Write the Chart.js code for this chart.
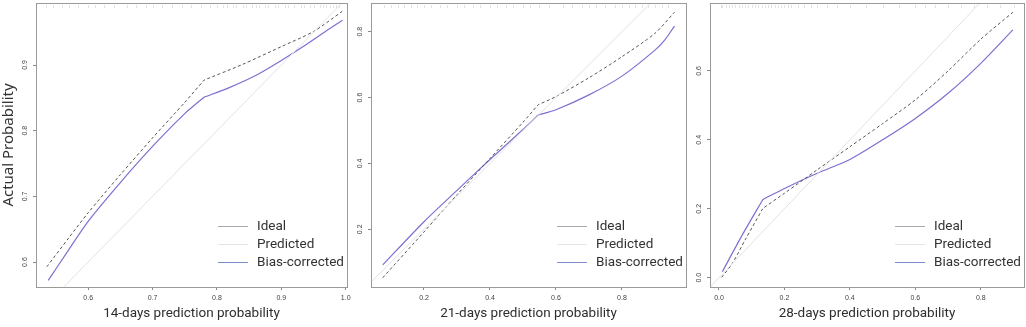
<!DOCTYPE html>
<html><head><meta charset="utf-8">
<script src="https://cdn.jsdelivr.net/npm/chart.js@4"></script>
<style>
html,body{margin:0;padding:0;background:#fff;width:1026px;height:327px;overflow:hidden;position:relative}
canvas{position:absolute;top:-10px}
</style></head><body>
<canvas id="c1" width="362" height="337" style="left:0px"></canvas>
<canvas id="c2" width="352" height="337" style="left:349px"></canvas>
<canvas id="c3" width="336" height="337" style="left:690px"></canvas>
<script>
// ---------- data ----------
const legendLabels = ["Ideal", "Predicted", "Bias-corrected"];
const xTitles = ["14-days prediction probability", "21-days prediction probability", "28-days prediction probability"];
const yTitle = "Actual Probability";

// Panel 1 (14 days)
const p1PredX = [0.536,0.57,0.6,0.65,0.7,0.75,0.78,0.78,0.84,0.9,0.95,0.995];
const p1PredY = [0.593,0.637,0.675,0.733,0.789,0.843,0.877,0.877,0.901,0.928,0.951,0.982];
const p1BiasX = [0.538,0.57,0.6,0.65,0.7,0.75,0.78,0.78,0.82,0.86,0.9,0.94,0.97,0.995];
const p1BiasY = [0.572,0.619,0.662,0.721,0.776,0.826,0.851,0.851,0.866,0.884,0.907,0.932,0.952,0.968];
const p1XTicks = [0.6,0.7,0.8,0.9,1.0];
const p1YTicks = [0.6,0.7,0.8,0.9];
const p1Rug = [0.535,0.545,0.56,0.57,0.585,0.60,0.61,0.625,0.64,0.66,0.675,0.69,0.70,0.715,0.73,0.745,0.76,0.775,0.79,0.80,0.81,0.815,0.825,0.83,0.84,0.845,0.855,0.86,0.865,0.875,0.88,0.89,0.895,0.905,0.91,0.92,0.93,0.935,0.945,0.95,0.96,0.965,0.97,0.975,0.98,0.985,0.99];

// Panel 2 (21 days)
const p2PredX = [0.075,0.2,0.3,0.4,0.5,0.546,0.546,0.6,0.7,0.8,0.9,0.959];
const p2PredY = [0.053,0.192,0.305,0.415,0.525,0.578,0.578,0.603,0.660,0.724,0.795,0.859];
const p2BiasX = [0.075,0.2,0.3,0.4,0.5,0.546,0.546,0.6,0.7,0.8,0.9,0.93,0.959];
const p2BiasY = [0.092,0.223,0.318,0.412,0.503,0.547,0.547,0.563,0.608,0.665,0.744,0.775,0.817];
const p2XTicks = [0.2,0.4,0.6,0.8];
const p2YTicks = [0.2,0.4,0.6,0.8];
const p2Rug = [0.08,0.1,0.12,0.14,0.16,0.18,0.2,0.22,0.25,0.27,0.3,0.32,0.35,0.37,0.4,0.42,0.45,0.47,0.5,0.52,0.55,0.58,0.62,0.65,0.68,0.7,0.72,0.75,0.78,0.8,0.82,0.84,0.86,0.88,0.9,0.92,0.94];

// Panel 3 (28 days)
const p3PredX = [0.008,0.04,0.08,0.134,0.134,0.2,0.3,0.4,0.5,0.6,0.7,0.8,0.898];
const p3PredY = [0.001,0.040,0.110,0.201,0.201,0.245,0.313,0.380,0.447,0.516,0.600,0.692,0.770];
const p3BiasX = [0.010,0.07,0.134,0.134,0.2,0.3,0.4,0.5,0.6,0.7,0.8,0.898];
const p3BiasY = [0.017,0.122,0.227,0.227,0.259,0.303,0.343,0.400,0.462,0.535,0.622,0.719];
const p3XTicks = [0.0,0.2,0.4,0.6,0.8];
const p3YTicks = [0.0,0.2,0.4,0.6];
const p3Rug = [0.005,0.01,0.02,0.03,0.04,0.05,0.06,0.07,0.08,0.09,0.1,0.11,0.12,0.13,0.14,0.15,0.16,0.17,0.18,0.19,0.2,0.21,0.22,0.24,0.26,0.28,0.3,0.33,0.36,0.4,0.45,0.5,0.55,0.6,0.63,0.66,0.7,0.74,0.78,0.82,0.86,0.9];

// ---------- rendering ----------
const COL_IDEAL = '#e2e2e2';
const COL_PRED = '#555555';
const COL_BIAS = '#7a70d2';
const LEG_COLS = ['#a8a8b0', '#e4e4e4', '#7f8ccc'];

function pts(xs, ys){ return xs.map((x,i)=>({x:x, y:ys[i]})); }

const boxPlugin = {
  id:'boxAndExtras',
  beforeDatasetsDraw(chart){
    const a = chart.chartArea, ctx = chart.ctx, rug = chart.$rug || [], xs = chart.scales.x;
    ctx.save();
    ctx.strokeStyle = '#e3e3e3'; ctx.lineWidth = 1;
    rug.forEach(v=>{
      const px = Math.round(xs.getPixelForValue(v)) + 0.5;
      ctx.beginPath(); ctx.moveTo(px, a.top + 2); ctx.lineTo(px, a.top + 5); ctx.stroke();
    });
    ctx.restore();
  },
  afterDraw(chart){
    const a = chart.chartArea, ctx = chart.ctx;
    ctx.save();
    ctx.strokeStyle = '#9a9a9a'; ctx.lineWidth = 1;
    ctx.strokeRect(Math.round(a.left)+0.5, Math.round(a.top)+0.5, Math.round(a.right-a.left), Math.round(a.bottom-a.top));
    // legend inside plot box
    const ys = [Math.round(a.bottom-61)+0.5, Math.round(a.bottom-43)+0.5, Math.round(a.bottom-25)+0.5];
    ctx.font = '13.5px Roboto';
    ctx.textBaseline = 'middle'; ctx.textAlign = 'left';
    legendLabels.forEach((lab,i)=>{
      ctx.strokeStyle = LEG_COLS[i]; ctx.lineWidth = 1;
      ctx.beginPath(); ctx.moveTo(Math.round(a.right-129), ys[i]); ctx.lineTo(Math.round(a.right-99), ys[i]); ctx.stroke();
      ctx.fillStyle = '#333';
      ctx.fillText(lab, a.right-90, ys[i]);
    });
    ctx.restore();
  }
};

function makeChart(id, o){
  const ticksFont = {size:7, family:'"Liberation Sans"'};
  const canvas = document.getElementById(id);
  return new Chart(canvas, {
    type:'scatter',
    data:{ datasets:[
      {label:legendLabels[0], data:[{x:-0.1,y:-0.1},{x:1.1,y:1.1}], showLine:true, borderColor:COL_IDEAL, borderWidth:1, pointRadius:0},
      {label:legendLabels[1], data:pts(o.px,o.py), showLine:true, borderColor:COL_PRED, borderWidth:1, borderDash:[3,2.5], pointRadius:0, tension:0.25},
      {label:legendLabels[2], data:pts(o.bx,o.by), showLine:true, borderColor:COL_BIAS, borderWidth:1.2, pointRadius:0, tension:0.25}
    ]},
    options:{
      responsive:false, animation:false, events:[],
      layout:{padding:{top:13, right:o.padR, left:0, bottom:0}},
      plugins:{legend:{display:false}, tooltip:{enabled:false}},
      scales:{
        x:{type:'linear', min:o.xmin, max:o.xmax,
          afterBuildTicks:s=>{ s.ticks = o.xt.map(v=>({value:v})); },
          afterFit:s=>{ s.height = 40; },
          border:{display:false},
          grid:{display:true, drawOnChartArea:false, drawTicks:true, tickLength:3, color:'#8a8a8a'},
          ticks:{font:ticksFont, color:'#444', padding:4, maxRotation:0, autoSkip:false, callback:v=>Number(v).toFixed(1)},
          title:{display:true, text:o.xtitle, color:'#2e2e2e', font:{size:13.5, family:'Roboto'}, padding:{top:0, bottom:4.8}}
        },
        y:{type:'linear', min:o.ymin, max:o.ymax,
          afterBuildTicks:s=>{ s.ticks = o.yt.map(v=>({value:v})); },
          afterFit:s=>{ s.width = o.yw; },
          border:{display:false},
          grid:{display:true, drawOnChartArea:false, drawTicks:true, tickLength:3, color:'#8a8a8a'},
          ticks:{font:ticksFont, color:'#444', padding:3, minRotation:90, maxRotation:90, crossAlign:'center', autoSkip:false, callback:v=>Number(v).toFixed(1)},
          title:{display:!!o.ytitle, text:o.ytitle||'', color:'#333', font:{size:15, family:'"Noto Sans"'}, padding:{top:0, bottom:0}}
        }
      }
    },
    plugins:[boxPlugin, {id:'rugInit', beforeInit(ch){ ch.$rug = o.rug; }}]
  });
}

makeChart('c1', {px:p1PredX, py:p1PredY, bx:p1BiasX, by:p1BiasY, xt:p1XTicks, yt:p1YTicks, rug:p1Rug,
  xmin:0.519, xmax:1.002, ymin:0.562, ymax:0.9944, yw:36, padR:15, xtitle:xTitles[0], ytitle:yTitle});
makeChart('c2', {px:p2PredX, py:p2PredY, bx:p2BiasX, by:p2BiasY, xt:p2XTicks, yt:p2YTicks, rug:p2Rug,
  xmin:0.0394, xmax:0.994, ymin:0.0248, ymax:0.887, yw:22, padR:15, xtitle:xTitles[1]});
makeChart('c3', {px:p3PredX, py:p3PredY, bx:p3BiasX, by:p3BiasY, xt:p3XTicks, yt:p3YTicks, rug:p3Rug,
  xmin:-0.0275, xmax:0.932, ymin:-0.027, ymax:0.797, yw:20, padR:2, xtitle:xTitles[2]});
</script>
</body></html>
